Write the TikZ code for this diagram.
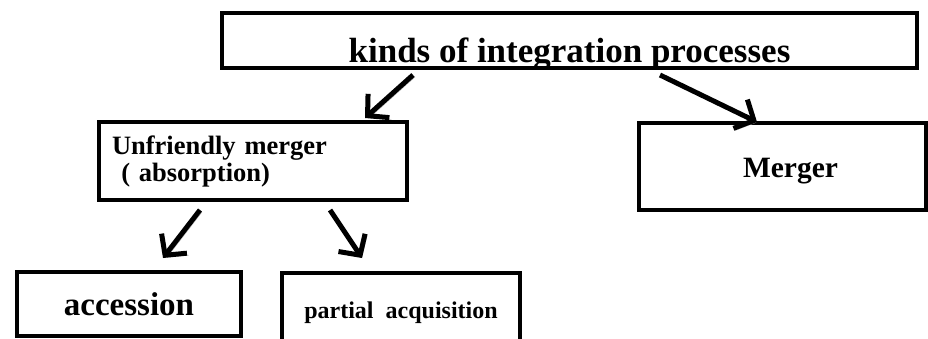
\documentclass[tikz,border=0pt]{standalone}
\usepackage{fontspec}
\setmainfont{Liberation Serif}
\usetikzlibrary{arrows.meta}

\tikzset{
  box/.style={draw, line width=4pt, inner sep=0pt, outer sep=0pt, anchor=base},
  arr/.style={line width=5pt, -{Straight Barb[length=15pt,width=32pt]},
    preaction={draw=gray!65, transform canvas={xshift=2pt,yshift=-2pt}}}
}

\begin{document}
\begin{tikzpicture}[x=1pt,y=-1pt]
\useasboundingbox (0,0) rectangle (928,339);

% boxes
\node[box, minimum width=695pt, text height=50pt, text depth=5pt,
  font=\bfseries\fontsize{35}{40}\selectfont] (kinds) at (569.5,63) {kinds of integration processes};
\node[box, anchor=center, align=left, text width=282pt, inner xsep=13pt, minimum height=78pt,
  font=\bfseries\fontsize{26.5}{27}\selectfont] (unf) at (253,161)
  {Unfriendly merger\\ \hspace*{0.35em}( absorption)};
\node[box, minimum width=287pt, text height=55pt, text depth=32pt,
  font=\bfseries\fontsize{29.5}{34}\selectfont] (mrg) at (782.5,178) {\hspace*{16pt}Merger};
\node[box, minimum width=224pt, text height=43pt, text depth=21pt,
  font=\bfseries\fontsize{33}{38}\selectfont] (acc) at (129,315) {accession};
\node[box, minimum width=238pt, text height=45pt, text depth=30pt,
  font=\bfseries\fontsize{24}{28}\selectfont] (part) at (401,318) {partial~ acquisition};

% arrows
\draw[arr] ([shift={(191,7)}]kinds.south west) -- ([shift={(-42,-4)}]unf.north east);
\draw[arr] ([shift={(438,7)}]kinds.south west) -- ([shift={(118,-1)}]mrg.north west);
\draw[arr] ([shift={(101,10)}]unf.south west) -- ([shift={(146,-14)}]acc.north west);
\draw[arr] ([shift={(231,10)}]unf.south west) -- ([shift={(80,-15)}]part.north west);
\end{tikzpicture}
\end{document}
